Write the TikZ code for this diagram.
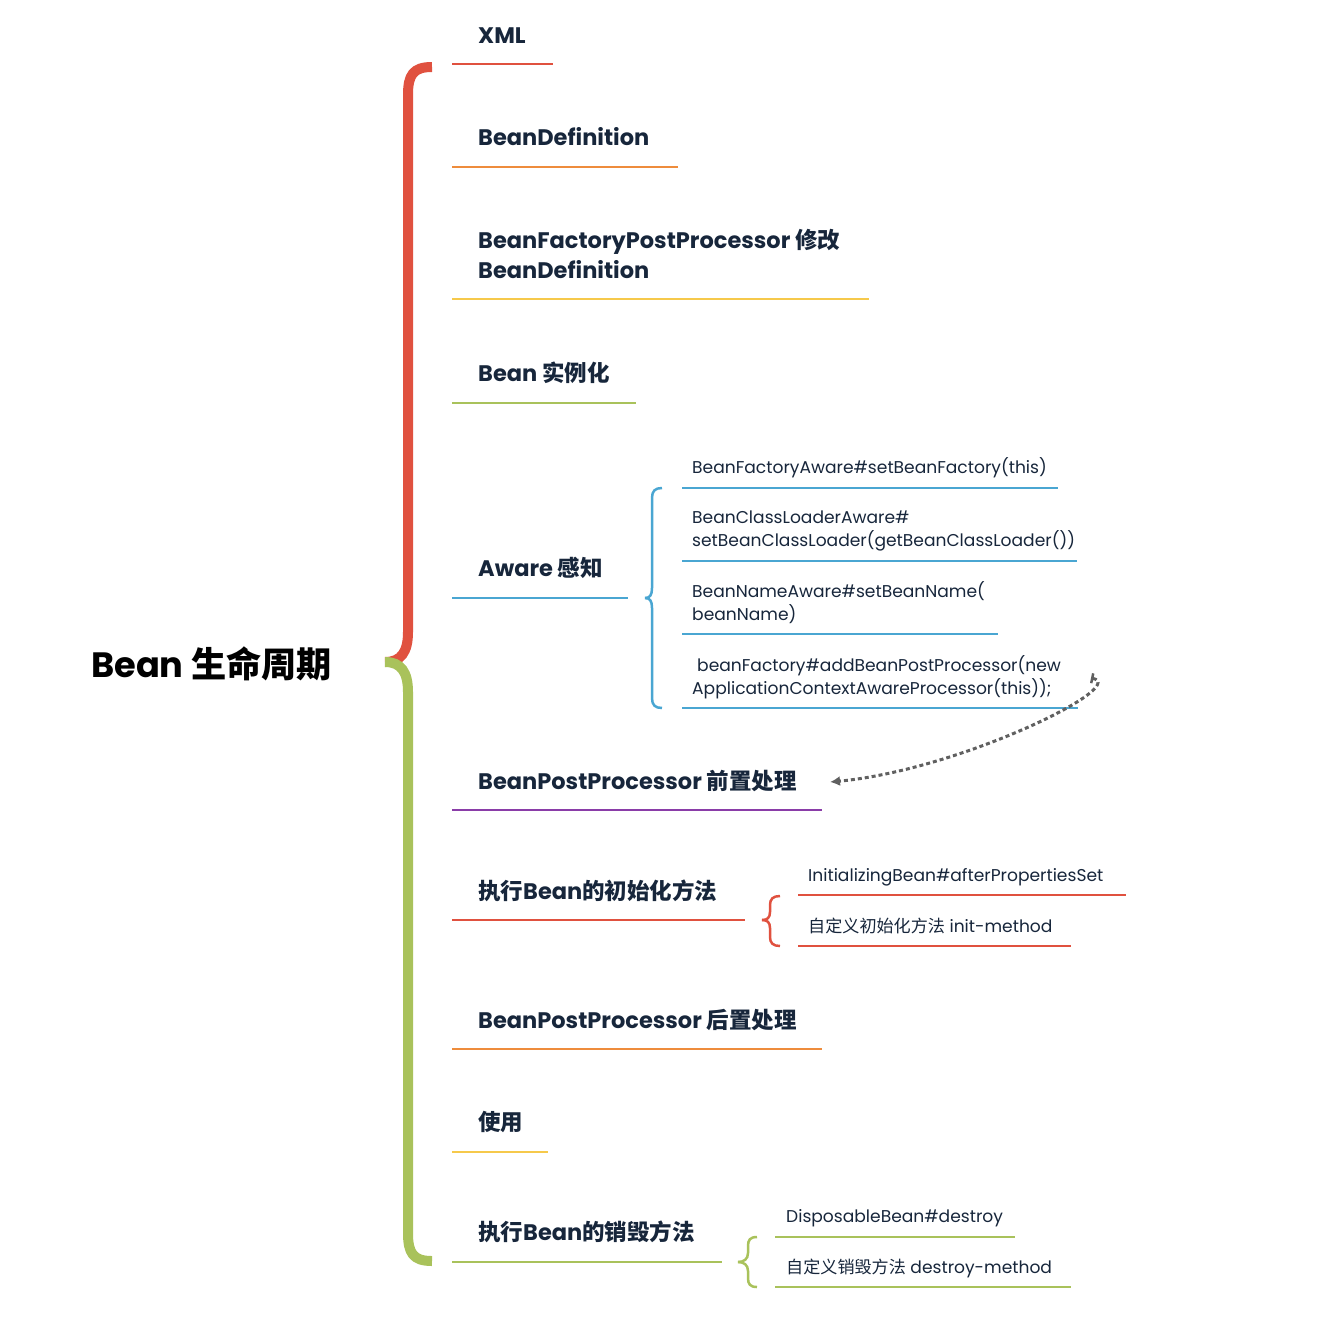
\documentclass[tikz,border=0pt]{standalone}
\usepackage{fontspec}
\setmainfont{Poppins}
\newfontfamily\cjk{Noto Sans CJK SC}
\usetikzlibrary{arrows.meta}
\newcommand{\zh}[1]{{\cjk #1}}
\definecolor{txt}{HTML}{17263B}
\definecolor{cred}{HTML}{E0513F}
\definecolor{corange}{HTML}{EE8C3C}
\definecolor{cyellow}{HTML}{F6C94B}
\definecolor{cgreen}{HTML}{A9C25B}
\definecolor{cblue}{HTML}{4AA6D2}
\definecolor{cpurple}{HTML}{8A3DA8}
\definecolor{cgrey}{HTML}{606060}
\tikzset{
  branch/.style={anchor=base west, inner sep=0pt, text=txt, font=\fontsize{22.5}{26}\selectfont\bfseries},
  leaf/.style={anchor=base west, inner sep=0pt, text=txt, font=\fontsize{17.1}{20}\selectfont},
  uline/.style={line width=2.5pt},
  bigbrace/.style={line width=10pt},
  smallbrace/.style={line width=2.5pt},
}
\begin{document}
\begin{tikzpicture}[x=1pt,y=-1pt]
\useasboundingbox (0,0) rectangle (1338,1328);
% main title
\node[anchor=base west, inner sep=0pt, font=\fontsize{35.2}{40}\selectfont\bfseries, text=black] (root) at (91,677) {Bean \zh{生命周期}};
% main brace
\draw[bigbrace, cred] (432,67) .. controls (413,67) and (408,75) .. (408,95) -- (408,632) .. controls (408,652) and (401,662) .. (385,662);
\draw[bigbrace, cgreen] (385,662) .. controls (401,662) and (408,672) .. (408,692) -- (408,1233) .. controls (408,1253) and (413,1261) .. (432,1261);
% branches
\node[branch] (b1) at (478,43) {XML};
\draw[uline, cred] (452,64) -- (553,64);
\node[branch] (b2) at (478,145) {BeanDefinition};
\draw[uline, corange] (452,167) -- (678,167);
\node[branch] (b3a) at (478,248) {BeanFactoryPostProcessor \zh{修改}};
\node[branch] (b3b) at (478,278) {BeanDefinition};
\draw[uline, cyellow] (452,299) -- (869,299);
\node[branch] (b4) at (478,381) {Bean \zh{实例化}};
\draw[uline, cgreen] (452,403) -- (636,403);
\node[branch] (b5) at (478,576) {Aware \zh{感知}};
\draw[uline, cblue] (452,598) -- (628,598);
% aware brace
\draw[smallbrace, cblue] (662,488) .. controls (655,488) and (652,491) .. (652,498) -- (652,588) .. controls (652,595) and (650,598) .. (645,598);
\draw[smallbrace, cblue] (645,598) .. controls (650,598) and (652,601) .. (652,608) -- (652,698) .. controls (652,705) and (655,708) .. (662,708);
\node[leaf] (a1) at (692,473) {BeanFactoryAware\#setBeanFactory(this)};
\draw[uline, cblue] (682,488) -- (1058,488);
\node[leaf] (a2a) at (692,523) {BeanClassLoaderAware\#};
\node[leaf] (a2b) at (692,546) {setBeanClassLoader(getBeanClassLoader())};
\draw[uline, cblue] (682,561) -- (1077,561);
\node[leaf] (a3a) at (692,597) {BeanNameAware\#setBeanName(};
\node[leaf] (a3b) at (692,620) {beanName)};
\draw[uline, cblue] (682,634) -- (998,634);
\node[leaf] (a4a) at (697,671) {beanFactory\#addBeanPostProcessor(new};
\node[leaf] (a4b) at (692,694) {ApplicationContextAwareProcessor(this));};
\draw[uline, cblue] (682,708) -- (1078,708);
% BPP before
\node[branch] (b6) at (478,789) {BeanPostProcessor \zh{前置处理}};
\draw[uline, cpurple] (452,810) -- (822,810);
% dashed arrow
\coordinate (arrS) at (1091,678);
\coordinate (arrE) at (830,782);
\draw[cgrey, line width=3pt, dash pattern=on 4pt off 3pt, {Bar[width=10pt,line width=2.5pt]}-{Latex[length=10pt,width=10pt]}] (arrS) .. controls (1130,686) and (960,770) .. (arrE);
% init
\node[branch] (b7) at (478,899) {\zh{执行}Bean\zh{的初始化方法}};
\draw[uline, cred] (452,920) -- (745,920);
\draw[smallbrace, cred] (780,896) .. controls (773,896) and (770,899) .. (770,905) -- (770,912) .. controls (770,918) and (767,920) .. (762,920);
\draw[smallbrace, cred] (762,920) .. controls (767,920) and (770,922) .. (770,928) -- (770,937) .. controls (770,943) and (773,946) .. (780,946);
\node[leaf] (i1) at (808,881) {InitializingBean\#afterPropertiesSet};
\draw[uline, cred] (798,895) -- (1126,895);
\node[leaf] (i2) at (808,932) {\zh{自定义初始化方法} init-method};
\draw[uline, cred] (798,946) -- (1071,946);
% BPP after
\node[branch] (b8) at (478,1028) {BeanPostProcessor \zh{后置处理}};
\draw[uline, corange] (452,1049) -- (822,1049);
% use
\node[branch] (b9) at (478,1130) {\zh{使用}};
\draw[uline, cyellow] (452,1152) -- (548,1152);
% destroy
\node[branch] (b10) at (478,1240) {\zh{执行}Bean\zh{的销毁方法}};
\draw[uline, cgreen] (452,1262) -- (722,1262);
\draw[smallbrace, cgreen] (757,1237) .. controls (750,1237) and (748,1240) .. (748,1246) -- (748,1253) .. controls (748,1259) and (744,1262) .. (738,1262);
\draw[smallbrace, cgreen] (738,1262) .. controls (744,1262) and (748,1265) .. (748,1271) -- (748,1278) .. controls (748,1284) and (750,1287) .. (757,1287);
\node[leaf] (d1) at (786,1222) {DisposableBean\#destroy};
\draw[uline, cgreen] (775,1237) -- (1015,1237);
\node[leaf] (d2) at (786,1273) {\zh{自定义销毁方法} destroy-method};
\draw[uline, cgreen] (775,1287) -- (1071,1287);
\end{tikzpicture}
\end{document}
